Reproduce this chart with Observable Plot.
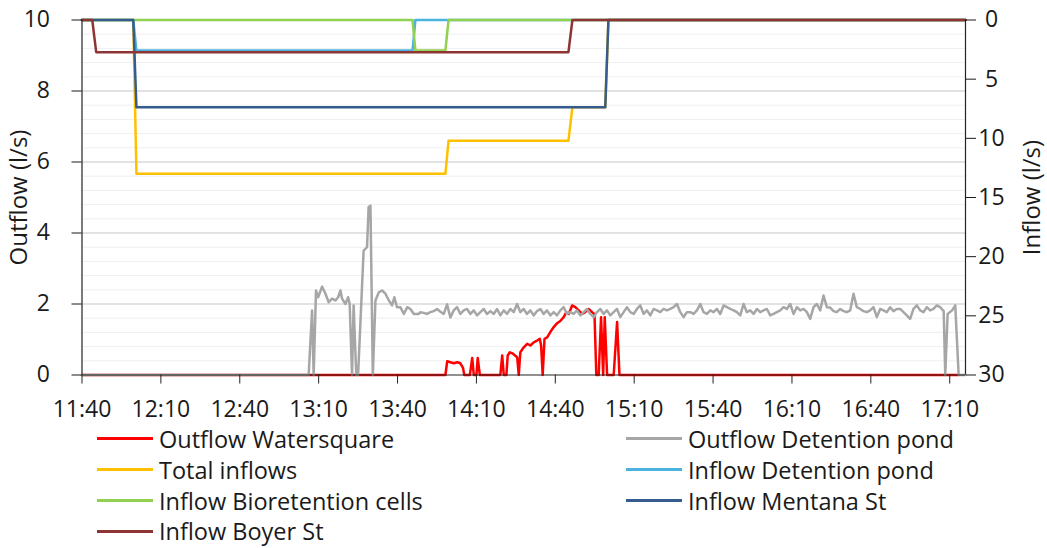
<!DOCTYPE html>
<html>
<head>
<meta charset="utf-8">
<script src="https://cdn.jsdelivr.net/npm/d3@7"></script>
<script src="https://cdn.jsdelivr.net/npm/@observablehq/plot@0.6"></script>
<style>
  html, body { margin: 0; padding: 0; background: #fff; }
  #wrap { position: relative; width: 1047px; height: 548px; font-family: "Open Sans", sans-serif; color: #1a1a1a; }
  #legend { position: absolute; left: 0; top: 0; width: 1047px; height: 548px; pointer-events: none; }
  .item { position: absolute; display: flex; align-items: center; font-size: 23.5px; line-height: 24px; height: 24px; white-space: nowrap; }
  .sw { width: 56px; height: 3px; margin-right: 6px; flex: none; }
</style>
</head>
<body>
<div id="wrap"><div id="chart"></div><div id="legend"></div></div>
<script>
// ---- tick labels ----
const xTickLabels = ["11:40","12:10","12:40","13:10","13:40","14:10","14:40","15:10","15:40","16:10","16:40","17:10"];
const outflowTicks = [0, 2, 4, 6, 8, 10];
const inflowTicks = [0, 5, 10, 15, 20, 25, 30];
const startClock = "11:40";
const endMinute = 336; // minutes after 11:40 where the axis ends

// ---- series: [minutes after 11:40, l/s] ----
const outflowWatersquare = [
  [0,0],[138.2,0],[138.9,0.39],[140.1,0.36],[141.4,0.33],[142.7,0.36],[143.9,0.33],[144.9,0.2],[145.4,0],
  [147.5,0],[148.4,0.48],[149.0,0],[150.0,0],[150.5,0.48],[151.3,0],[159.1,0],[159.8,0.55],[160.4,0],
  [161.4,0],[161.9,0.55],[162.7,0.64],[163.9,0.6],[165.5,0.5],[166.1,0],[166.7,0.64],[168.0,0.78],
  [169.3,0.88],[170.5,0.83],[171.8,0.92],[173.1,0.97],[174.1,1.02],[174.6,0.83],[175.2,0],[175.9,1.02],
  [176.9,1.06],[178.1,1.21],[179.4,1.35],[180.7,1.46],[181.9,1.52],[183.2,1.63],[184.2,1.77],[185.1,1.72],
  [186.4,1.96],[187.6,1.91],[188.9,1.82],[190.2,1.72],[191.4,1.77],[192.7,1.86],[194.0,1.77],[194.9,1.72],
  [195.6,0],[196.5,0],[197.4,1.63],[198.2,0],[198.8,1.63],[199.7,0],[202.2,0],[203.5,1.49],[204.4,0],
  [333.2,0]
];

const detentionOutEarly = [
  [0,0],[86.2,0],[87.5,1.82],[88.1,0],[89.0,2.38],[89.8,2.19],[91.3,2.49],[92.6,2.29],[93.8,2.05],
  [95.1,2.15],[96.4,2.1],[97.4,2.19],[98.3,2.38],[98.9,2.15],[100.2,2.0],[101.2,2.19],[101.8,2.0],
  [102.7,0],[103.3,1.96],[104.3,0],[105.0,0],[107.1,3.5],[108.4,3.6],[109.0,4.73],[109.7,4.77],
  [110.6,0],[111.6,2.1],[112.9,2.33],[114.1,2.38],[115.4,2.29],[116.7,2.1],[117.9,1.96],[118.8,2.19],
  [119.8,1.91],[121.1,1.91],[122.4,1.72],[123.7,1.91],[124.9,1.86],[126.2,1.72],[128.1,1.72]
];
const detentionOutSteadyStart = 128.7; // minutes after 11:40
const detentionOutSteadyStep = 1.267;  // reading interval (min)
const detentionOutSteady = [
  1.77,1.75,1.72,1.77,1.80,1.86,1.78,1.72,1.99,1.62,
  1.82,1.91,1.72,1.82,1.86,1.72,1.82,1.68,1.77,1.86,
  1.72,1.80,1.72,1.86,1.68,1.82,1.72,1.86,1.77,2.00,
  1.77,1.86,1.72,1.82,1.68,1.80,1.86,1.72,1.82,1.68,
  1.77,
  1.68,1.82,1.91,1.72,1.77,1.72,1.82,1.68,1.77,1.86,
  1.72,1.63,1.77,1.86,1.72,1.82,1.68,1.77,1.86,1.63,
  1.77,1.91,1.77,1.72,1.86,1.96,1.72,1.82,1.68,1.86,
  1.82,1.77,1.86,1.82,1.86,1.91,2.00,1.77,1.63,1.77,
  1.77,1.72,1.82,2.00,1.77,1.72,1.82,1.77,1.86,1.72,
  1.96,1.91,1.86,1.82,1.77,1.68,2.00,1.77,1.82,1.72,
  1.86,1.77,1.82,1.86,1.68,1.72,1.77,1.82,1.91,1.86,
  2.00,1.72,1.91,1.82,1.86,1.77,1.58,1.91,2.00,1.82,
  2.24,1.91,
  1.90,1.80,1.77,1.86,1.80,1.77,1.82,2.29,1.91,1.86,
  1.80,1.77,1.82,1.91,1.63,1.86,1.82,1.77,1.91,1.80,
  1.86,1.86,1.77,1.68,1.58,1.86,1.96,1.82,1.77,1.91,
  1.82,1.86,1.96,1.91
];
const detentionOutLate = [[327.7,1.80],[328.3,0],[329.2,1.72],[330.9,1.82],[332.1,1.96],[333.4,0],[336,0]];

const totalInflows = [[0,0],[19.5,0],[20.7,13.0],[138.2,13.0],[139.4,10.2],[185.0,10.2],[186.5,7.37],[199.0,7.37],[200.2,0],[336,0]];
const inflowDetention = [[0,0],[19.5,0],[20.7,2.58],[125.7,2.58],[126.8,0],[336,0]];
const inflowBioretention = [[0,0],[125.7,0],[126.8,2.58],[138.2,2.58],[139.4,0],[336,0]];
const inflowMentana = [[0,0],[19.5,0],[20.7,7.37],[199.0,7.37],[200.2,0],[336,0]];
const inflowBoyer = [[0,0],[3.9,0],[5.4,2.72],[185.0,2.72],[186.5,0],[336,0]];

const seriesNames = ["Outflow Watersquare","Outflow Detention pond","Total inflows","Inflow Detention pond","Inflow Bioretention cells","Inflow Mentana St","Inflow Boyer St"];
const seriesColors = ["#ff0000","#a6a6a6","#ffc000","#4bb4de","#92d050","#345c8e","#8e3434"];

// ---- build ----
const toMin = s => { const [h, m] = s.split(":").map(Number); return h * 60 + m; };
const t0 = toMin(startClock);
const xTicks = xTickLabels.map(s => toMin(s) - t0);
const detentionOut = [
  ...detentionOutEarly,
  ...detentionOutSteady.map((v, i) => [detentionOutSteadyStart + i * detentionOutSteadyStep, v]),
  ...detentionOutLate
];
const inflowToY = v => 10 - v / 3; // right axis: 0 at top, 30 at bottom

const majorGrid = [2, 4, 6, 8, 10];
const minorGrid = d3.range(1, 25).map(i => i * 0.4).filter(v => Math.abs(v / 2 - Math.round(v / 2)) > 1e-6);

const inflowSeries = [totalInflows, inflowDetention, inflowBioretention, inflowMentana, inflowBoyer];

const chart = Plot.plot({
  width: 1047,
  height: 420,
  marginLeft: 81.5,
  marginRight: 82,
  marginTop: 19.5,
  marginBottom: 45.5,
  style: { fontFamily: "Open Sans", color: "#1a1a1a", overflow: "visible" },
  x: { domain: [0, endMinute] },
  y: { domain: [0, 10] },
  marks: [
    Plot.ruleY(minorGrid, { stroke: "#efefef", strokeWidth: 1 }),
    Plot.ruleY(majorGrid, { stroke: "#d9d9d9", strokeWidth: 1.5 }),
    Plot.line(outflowWatersquare, { x: d => d[0], y: d => d[1], stroke: seriesColors[0], strokeWidth: 2.5 }),
    Plot.line(detentionOut, { x: d => d[0], y: d => d[1], stroke: seriesColors[1], strokeWidth: 2.5 }),
    ...inflowSeries.map((s, i) => Plot.line(s, { x: d => d[0], y: d => inflowToY(d[1]), stroke: seriesColors[i + 2], strokeWidth: 2.5 })),
    Plot.ruleY([0], { stroke: "#222", strokeWidth: 1.2 }),
    Plot.ruleX([0, endMinute], { stroke: "#222", strokeWidth: 1.2 }),
    Plot.axisX({ ticks: xTicks, tickFormat: (d, i) => xTickLabels[i], tickSize: 9, tickPadding: 17, fontSize: 23, label: null, stroke: "#222" }),
    Plot.axisY({ anchor: "left", ticks: outflowTicks, tickSize: 10, tickPadding: 22, fontSize: 23, label: null }),
    Plot.axisY({ anchor: "right", ticks: inflowTicks.map(inflowToY), tickFormat: (d, i) => String(inflowTicks[i]), tickSize: 10, tickPadding: 16, textAnchor: "middle", fontSize: 23, label: null }),
    Plot.text(["Outflow (l/s)"], { frameAnchor: "left", dx: -63, rotate: -90, textAnchor: "middle", fontSize: 24, fill: "#1a1a1a", text: d => d }),
    Plot.text(["Inflow (l/s)"], { frameAnchor: "right", dx: 67, rotate: -90, textAnchor: "middle", fontSize: 24, fill: "#1a1a1a", text: d => d })
  ]
});
document.getElementById("chart").appendChild(chart);

// ---- legend ----
const legendPos = [[97, 438.5], [626, 438.5], [97, 469.5], [626, 469.5], [97, 500.5], [626, 500.5], [97, 531]];
const legend = document.getElementById("legend");
seriesNames.forEach((name, i) => {
  const el = document.createElement("div");
  el.className = "item";
  el.style.left = legendPos[i][0] + "px";
  el.style.top = (legendPos[i][1] - 12) + "px";
  el.innerHTML = `<span class="sw" style="background:${seriesColors[i]}"></span><span>${name}</span>`;
  legend.appendChild(el);
});
</script>
</body>
</html>
